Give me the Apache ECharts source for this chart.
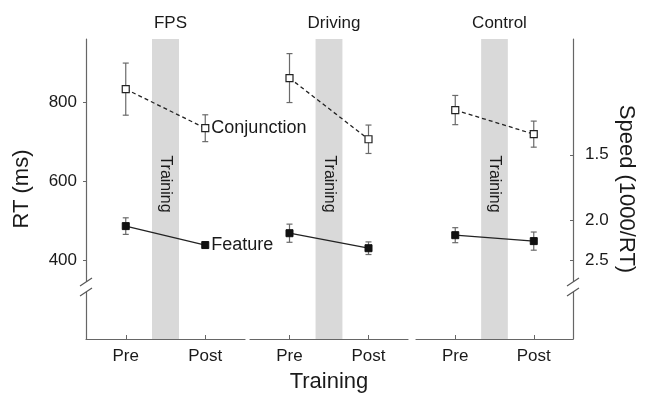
<!DOCTYPE html>
<html>
<head>
<meta charset="utf-8">
<script src="https://cdn.jsdelivr.net/npm/echarts@6/dist/echarts.min.js"></script>
<style>html,body{margin:0;padding:0;background:#fff;}#chart{width:646px;height:402px;}</style>
</head>
<body>
<div id="chart"></div>
<script>
// ---- data ----
const panels = ['FPS', 'Driving', 'Control'];
const phases = ['Pre', 'Post'];
const phaseX = [1, 3];
const conjMean = [[833, 734], [861, 706], [780, 719]];
const conjErr = [[66, 34], [62, 36], [37, 33]];
const featMean = [[486, 438], [468, 430], [463, 448]];
const featErr = [[21, 7], [23, 16], [19, 23]];
const rtTicks = [400, 600, 800];
const speedTicks = [1.5, 2.0, 2.5];
const trainingBand = [1.66, 2.34];
const breakRT = 332;

// ---- layout ----
const FONT = 'Liberation Sans, Arial, sans-serif';
const gridLefts = [86, 250, 416];
const gridWidths = [159, 158, 157];
const TOP = 39, HEIGHT = 300;
const axisColor = '#666';
const textColor = '#1a1a1a';

const chart = echarts.init(document.getElementById('chart'), null, {renderer: 'canvas'});

const grids = [], xAxes = [], yAxes = [], series = [], titles = [];

function errRender(params, api) {
  const x = api.value(0), lo = api.value(1), hi = api.value(2);
  const a = api.coord([x, hi]), b = api.coord([x, lo]);
  const w = 3;
  const st = {stroke: '#6a6a6a', lineWidth: 1.2};
  return {type: 'group', children: [
    {type: 'line', shape: {x1: a[0], y1: a[1], x2: b[0], y2: b[1]}, style: st},
    {type: 'line', shape: {x1: a[0] - w, y1: a[1], x2: a[0] + w, y2: a[1]}, style: st},
    {type: 'line', shape: {x1: b[0] - w, y1: b[1], x2: b[0] + w, y2: b[1]}, style: st}
  ]};
}

function breakRender(params, api) {
  const p = api.coord([api.value(0), api.value(1)]);
  const x = p[0], y = p[1];
  const st = {stroke: '#555', lineWidth: 1.2};
  return {type: 'group', children: [
    {type: 'rect', shape: {x: x - 3, y: y - 5, width: 6, height: 10}, style: {fill: '#fff'}},
    {type: 'line', shape: {x1: x - 6, y1: y - 1, x2: x + 6, y2: y - 9}, style: st},
    {type: 'line', shape: {x1: x - 6, y1: y + 9, x2: x + 6, y2: y + 1}, style: st}
  ]};
}

panels.forEach((name, i) => {
  grids.push({left: gridLefts[i], top: TOP, width: gridWidths[i], height: HEIGHT, containLabel: false});
  titles.push({
    text: name, left: gridLefts[i] + gridWidths[i] / 2, top: 10, textAlign: 'center',
    textStyle: {fontFamily: FONT, fontSize: 17, fontWeight: 'normal', color: textColor}
  });
  xAxes.push({
    type: 'value', gridIndex: i, min: 0, max: 4,
    name: i === 1 ? 'Training' : '', nameLocation: 'middle', nameGap: 32,
    nameTextStyle: {fontFamily: FONT, fontSize: 22, color: textColor},
    axisLine: {show: true, onZero: false, lineStyle: {color: axisColor, width: 1.2}},
    axisTick: {show: true, inside: true, length: 4, customValues: phaseX, lineStyle: {color: axisColor}},
    axisLabel: {show: true, customValues: phaseX, margin: 9, fontFamily: FONT, fontSize: 17, color: textColor,
      formatter: v => phases[phaseX.indexOf(v)]},
    splitLine: {show: false}
  });
  const y = {
    type: 'value', gridIndex: i, min: 200, max: 960,
    splitLine: {show: false}
  };
  if (i === 0) {
    Object.assign(y, {
      position: 'left', name: 'RT (ms)', nameLocation: 'middle', nameGap: 53, nameRotate: 90,
      nameTextStyle: {fontFamily: FONT, fontSize: 22, color: textColor},
      axisLine: {show: true, onZero: false, lineStyle: {color: axisColor, width: 1.2}},
      axisTick: {show: true, inside: false, length: 3, customValues: rtTicks, lineStyle: {color: axisColor}},
      axisLabel: {show: true, customValues: rtTicks, margin: 9, fontFamily: FONT, fontSize: 17, color: textColor}
    });
  } else if (i === 2) {
    const vals = speedTicks.map(s => 1000 / s);
    Object.assign(y, {
      position: 'right', name: 'Speed (1000/RT)', nameLocation: 'middle', nameGap: 42, nameRotate: -90,
      nameTextStyle: {fontFamily: FONT, fontSize: 22, color: textColor},
      axisLine: {show: true, onZero: false, lineStyle: {color: axisColor, width: 1.2}},
      axisTick: {show: true, inside: true, length: 3, customValues: vals, lineStyle: {color: axisColor}},
      axisLabel: {show: true, customValues: vals, margin: 12, fontFamily: FONT, fontSize: 17, color: textColor,
        formatter: v => (1000 / v).toFixed(1)}
    });
  } else {
    Object.assign(y, {show: false});
  }
  yAxes.push(y);

  // error bars
  const errData = [];
  phaseX.forEach((x, j) => {
    errData.push([x, conjMean[i][j] - conjErr[i][j], conjMean[i][j] + conjErr[i][j]]);
    errData.push([x, featMean[i][j] - featErr[i][j], featMean[i][j] + featErr[i][j]]);
  });
  series.push({
    type: 'custom', xAxisIndex: i, yAxisIndex: i, z: 3, renderItem: errRender,
    data: errData, silent: true,
    markArea: {
      silent: true,
      itemStyle: {color: '#d9d9d9'},
      label: {show: true, position: 'inside', formatter: 'Training', rotate: -90,
        fontFamily: FONT, fontSize: 16, color: textColor, offset: [-5, 0]},
      data: [[{xAxis: trainingBand[0]}, {xAxis: trainingBand[1]}]]
    }
  });

  const conjData = phaseX.map((x, j) => {
    const d = {value: [x, conjMean[i][j]]};
    if (i === 0 && j === 1) d.label = {show: true, formatter: 'Conjunction', position: 'right', distance: 2,
      fontFamily: FONT, fontSize: 18, color: textColor};
    return d;
  });
  const featData = phaseX.map((x, j) => {
    const d = {value: [x, featMean[i][j]]};
    if (i === 0 && j === 1) d.label = {show: true, formatter: 'Feature', position: 'right', distance: 2,
      fontFamily: FONT, fontSize: 18, color: textColor};
    return d;
  });
  series.push({
    type: 'line', xAxisIndex: i, yAxisIndex: i, z: 5, data: conjData,
    symbol: 'rect', symbolSize: 7, showAllSymbol: true,
    lineStyle: {color: '#222', width: 1.3, type: [4, 3]},
    itemStyle: {color: '#fff', borderColor: '#222', borderWidth: 1.2},
    emphasis: {disabled: true}, animation: false
  });
  series.push({
    type: 'line', xAxisIndex: i, yAxisIndex: i, z: 5, data: featData,
    symbol: 'rect', symbolSize: 7, showAllSymbol: true,
    lineStyle: {color: '#222', width: 1.3},
    itemStyle: {color: '#111', borderColor: '#111', borderWidth: 1},
    emphasis: {disabled: true}, animation: false
  });
});

// axis break marks
series.push({type: 'custom', xAxisIndex: 0, yAxisIndex: 0, z: 10, renderItem: breakRender,
  data: [[0, breakRT]], clip: false, silent: true});
series.push({type: 'custom', xAxisIndex: 2, yAxisIndex: 2, z: 10, renderItem: breakRender,
  data: [[4, breakRT]], clip: false, silent: true});

chart.setOption({
  animation: false,
  backgroundColor: '#fff',
  title: titles,
  grid: grids,
  xAxis: xAxes,
  yAxis: yAxes,
  series: series
});
</script>
</body>
</html>
